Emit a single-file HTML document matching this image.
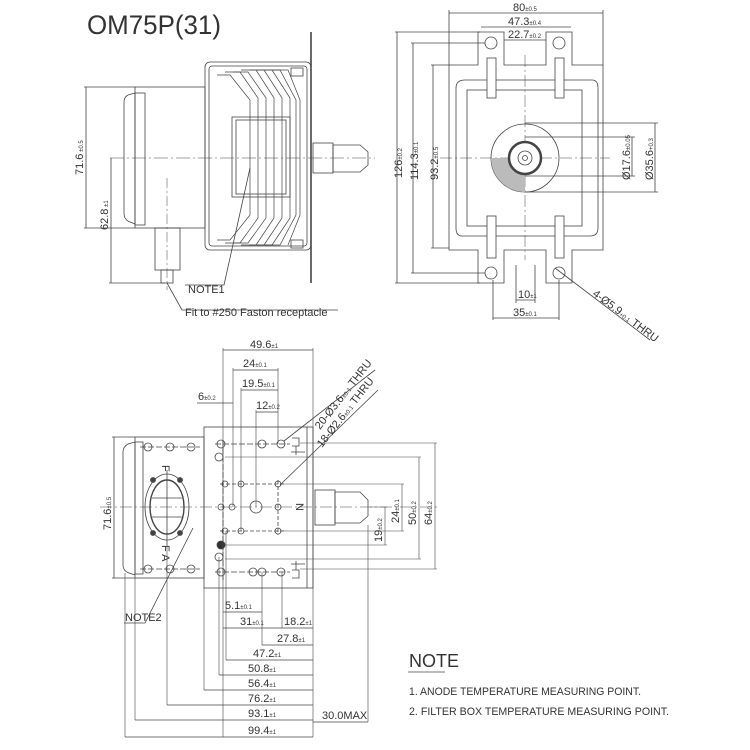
<!DOCTYPE html>
<html><head><meta charset="utf-8"><style>
html,body{margin:0;padding:0;background:#fff}
svg{display:block}
text{font-family:"Liberation Sans",sans-serif;fill:#333}
.t{font-size:11px}
.s{font-size:6px}
</style></head><body>
<svg width="750" height="750" viewBox="0 0 750 750" xmlns="http://www.w3.org/2000/svg" fill="none" stroke="#444" stroke-width="0.8">
<!-- TITLE -->
<text x="87" y="34" style="font-size:27px;font-weight:100" stroke="none" textLength="134" lengthAdjust="spacingAndGlyphs">OM75P(31)</text>

<!-- ===== SIDE VIEW TOP LEFT ===== -->
<line x1="110" y1="158" x2="375" y2="158" stroke-dasharray="14 3 2 3" stroke-width="0.5"/>
<rect x="135" y="87" width="70" height="141"/>
<path d="M135 93 L128 95 Q124 97 124 102 L124 213 Q124 220 130 222 L135 224"/>
<rect x="135" y="93" width="10" height="132"/>
<rect x="205" y="62" width="106" height="188" rx="5"/>
<rect x="209" y="66" width="98" height="180" rx="3"/>
<line x1="311" y1="32" x2="311" y2="283" stroke-width="1.6"/>
<rect x="232" y="117" width="58" height="80"/>
<rect x="236" y="120" width="50" height="74"/>
<g stroke-width="0.7">
<path d="M217 75 L230 75 L250 100 L250 215 L230 240 L217 240"/>
<path d="M225 72 L240 72 L258 98 L258 218 L240 243 L225 243"/>
<path d="M233 72 L248 72 L266 98 L266 218 L248 243 L233 243"/>
<path d="M241 70 L256 70 L274 98 L274 218 L256 245 L241 245"/>
<path d="M249 70 L264 70 L282 98 L282 218 L264 245 L249 245"/>
<path d="M257 70 L272 70 L290 98 L290 218 L272 245 L257 245"/>
<path d="M265 70 L280 70 L296 100 L296 215 L280 245 L265 245"/>
<path d="M273 70 L288 70 L300 100 L300 215 L288 245"/>
</g>
<rect x="291" y="68" width="12" height="8"/><rect x="291" y="240" width="12" height="8"/>
<rect x="313" y="143" width="20" height="30"/>
<path d="M333 145 L360 145 L368 152 L368 165 L360 172 L333 172 Z"/>
<rect x="155" y="228" width="25" height="42"/>
<rect x="161" y="270" width="12" height="13"/>
<line x1="167" y1="178" x2="167" y2="290" stroke-dasharray="10 3 2 3" stroke-width="0.5"/>
<!-- dims -->
<line x1="86" y1="87" x2="86" y2="228"/><line x1="84" y1="87" x2="135" y2="87"/><line x1="84" y1="228" x2="135" y2="228"/>
<text class="t" x="0" y="0" stroke="none" transform="translate(83 175) rotate(-90)">71.6<tspan class="s"> ±0.5</tspan></text>
<line x1="111" y1="158" x2="111" y2="283"/><line x1="109" y1="283" x2="165" y2="283"/>
<text class="t" stroke="none" transform="translate(108 230) rotate(-90)">62.8<tspan class="s"> ±1</tspan></text>
<path d="M250 168 L224 285 L185 285"/>
<text class="t" x="188" y="293" stroke="none">NOTE1</text>
<path d="M167 283 L182 310 L338 310"/>
<text class="t" x="185" y="316" stroke="none">Fit to #250 Faston receptacle</text>

<!-- ===== FRONT VIEW TOP RIGHT ===== -->
<line x1="525" y1="55" x2="525" y2="260" stroke-dasharray="12 3 2 3" stroke-width="0.5"/>
<line x1="440" y1="158" x2="610" y2="158" stroke-dasharray="12 3 2 3" stroke-width="0.5"/>
<path d="M449 65 L478 65 L478 32 L504 32 L504 65 L546 65 L546 32 L572 32 L572 65 L603 65 L603 250 L572 250 L572 283 L546 283 L546 250 L504 250 L504 283 L478 283 L478 250 L449 250 Z"/>
<path d="M465 80 L592 80 Q598 80 598 88 L598 228 Q598 236 590 236 L462 236 Q456 236 456 228 L456 88 Q456 80 465 80 Z"/>
<rect x="467" y="90" width="115" height="136"/>
<rect x="487" y="58" width="9" height="40" fill="#fff"/><rect x="555" y="58" width="9" height="40" fill="#fff"/>
<rect x="487" y="216" width="9" height="42" fill="#fff"/><rect x="555" y="216" width="9" height="42" fill="#fff"/>
<circle cx="491" cy="43" r="6"/><circle cx="559" cy="43" r="6"/>
<circle cx="491" cy="273" r="6"/><circle cx="559" cy="273" r="6"/>
<circle cx="525" cy="158" r="34"/>
<path d="M491 158 A34 34 0 0 0 525 192 L525 158 Z" fill="#bbb" stroke="none"/>
<circle cx="525" cy="158" r="16" stroke-width="2.5" fill="#fff"/>
<circle cx="525" cy="158" r="7"/><circle cx="525" cy="158" r="2.5"/>
<line x1="516" y1="265" x2="516" y2="285"/><line x1="535" y1="265" x2="535" y2="285"/>
<!-- dims -->
<line x1="449" y1="10" x2="449" y2="65"/><line x1="603" y1="10" x2="603" y2="65"/><line x1="449" y1="13" x2="603" y2="13"/>
<text class="t" x="513" y="11" stroke="none">80<tspan class="s">±0.5</tspan></text>
<line x1="481" y1="27" x2="571" y2="27"/>
<text class="t" x="508" y="25" stroke="none">47.3<tspan class="s">±0.4</tspan></text>
<line x1="504" y1="40" x2="546" y2="40"/>
<text class="t" x="508" y="38" stroke="none">22.7<tspan class="s">±0.2</tspan></text>
<line x1="397" y1="32" x2="397" y2="283"/><line x1="395" y1="32" x2="480" y2="32"/><line x1="395" y1="283" x2="480" y2="283"/>
<text class="t" stroke="none" transform="translate(402 178) rotate(-90)">126<tspan class="s">±0.2</tspan></text>
<line x1="413" y1="43" x2="413" y2="273"/><line x1="411" y1="43" x2="485" y2="43"/><line x1="411" y1="273" x2="485" y2="273"/>
<text class="t" stroke="none" transform="translate(418 180) rotate(-90)">114.3<tspan class="s">±0.1</tspan></text>
<line x1="433" y1="65" x2="433" y2="248"/><line x1="431" y1="65" x2="449" y2="65"/><line x1="431" y1="248" x2="449" y2="248"/>
<text class="t" stroke="none" transform="translate(438 180) rotate(-90)">93.2<tspan class="s">±0.5</tspan></text>
<line x1="525" y1="123" x2="658" y2="123"/><line x1="525" y1="192" x2="658" y2="192"/><line x1="655" y1="123" x2="655" y2="192"/>
<text class="t" stroke="none" transform="translate(653 180) rotate(-90)">Ø35.6<tspan class="s">+0.3</tspan></text>
<line x1="525" y1="137" x2="635" y2="137"/><line x1="525" y1="176" x2="635" y2="176"/><line x1="632" y1="137" x2="632" y2="176"/>
<text class="t" stroke="none" transform="translate(630 180) rotate(-90)">Ø17.6<tspan class="s">±0.05</tspan></text>
<line x1="516" y1="285" x2="516" y2="303"/><line x1="535" y1="285" x2="535" y2="303"/><line x1="516" y1="300" x2="535" y2="300"/>
<text class="t" x="518" y="298" stroke="none">10<tspan class="s">±1</tspan></text>
<line x1="493" y1="280" x2="493" y2="320"/><line x1="559" y1="280" x2="559" y2="320"/><line x1="493" y1="318" x2="559" y2="318"/>
<text class="t" x="513" y="316" stroke="none">35<tspan class="s">±0.1</tspan></text>
<line x1="555" y1="268" x2="650" y2="340"/>
<text class="t" stroke="none" transform="translate(592 295) rotate(37)">4-Ø5.9<tspan class="s">+0.1</tspan> THRU</text>

<!-- ===== BOTTOM VIEW ===== -->
<rect x="135" y="437" width="69" height="141"/>
<path d="M135 442 L128 444 Q123 447 123 452 L123 565 Q123 571 129 573 L135 575"/>
<rect x="135" y="442" width="8" height="132"/>
<rect x="204" y="427" width="109" height="161"/>
<line x1="307" y1="427" x2="307" y2="588"/>
<line x1="100" y1="507" x2="440" y2="507" stroke-dasharray="12 3 2 3" stroke-width="0.5"/>
<ellipse cx="167" cy="507" rx="22" ry="33"/>
<ellipse cx="167" cy="507" rx="17" ry="27" stroke-width="1.4"/>
<line x1="152" y1="498" x2="182" y2="498"/><line x1="152" y1="517" x2="182" y2="517"/>
<line x1="167" y1="470" x2="167" y2="545"/>
<g fill="#444"><circle cx="153" cy="480" r="2.5"/><circle cx="180" cy="480" r="2.5"/><circle cx="153" cy="533" r="2.5"/><circle cx="180" cy="533" r="2.5"/></g>
<g><circle cx="148" cy="447" r="4"/><circle cx="170" cy="447" r="4"/><circle cx="191" cy="447" r="4"/>
<circle cx="148" cy="569" r="4"/><circle cx="170" cy="569" r="4"/><circle cx="191" cy="569" r="4"/></g>
<line x1="140" y1="447" x2="200" y2="447" stroke-dasharray="6 2"/><line x1="140" y1="569" x2="200" y2="569" stroke-dasharray="6 2"/>
<text class="t" stroke="none" transform="translate(162 465) rotate(90)">F</text>
<text class="t" stroke="none" transform="translate(162 545) rotate(90)">F A</text>
<g>
<circle cx="221" cy="444" r="4"/><circle cx="262" cy="444" r="4"/><circle cx="281" cy="444" r="4"/>
<circle cx="219" cy="457" r="4"/>
<circle cx="225" cy="484" r="3"/><circle cx="241" cy="484" r="3"/><circle cx="278" cy="484" r="3"/>
<circle cx="221" cy="507" r="3"/><circle cx="232" cy="507" r="3"/><circle cx="256" cy="507" r="6"/><circle cx="278" cy="507" r="3"/>
<circle cx="225" cy="531" r="3"/><circle cx="241" cy="531" r="3"/><circle cx="278" cy="531" r="3"/>
<circle cx="221" cy="545" r="4" fill="#333"/><circle cx="219" cy="557" r="4"/>
<circle cx="221" cy="572" r="4"/><circle cx="253" cy="572" r="4"/><circle cx="262" cy="572" r="4"/><circle cx="281" cy="572" r="4"/>
</g>
<line x1="215" y1="444" x2="290" y2="444" stroke-dasharray="6 2"/><line x1="215" y1="572" x2="290" y2="572" stroke-dasharray="6 2"/>
<line x1="220" y1="484" x2="285" y2="484" stroke-dasharray="4 2"/><line x1="220" y1="531" x2="285" y2="531" stroke-dasharray="4 2"/>
<line x1="223" y1="440" x2="223" y2="580" stroke-dasharray="6 2"/>
<line x1="278" y1="480" x2="278" y2="535" stroke-dasharray="4 2"/>
<text class="t" stroke="none" transform="translate(296 503) rotate(90)">N</text>
<path d="M292 438 L299 438 L299 446 L292 446 M291 452 L305 452 M296 446 L296 455"/>
<path d="M292 578 L299 578 L299 570 L292 570 M291 564 L305 564 M296 570 L296 561"/>
<rect x="315" y="490" width="20" height="35"/>
<path d="M335 492 L360 492 L368 500 L368 516 L360 523 L335 523 Z"/>
<!-- vertical extension lines -->
<g stroke-width="0.6">
<line x1="223" y1="348" x2="223" y2="737"/><line x1="313" y1="348" x2="313" y2="737"/>
<line x1="233" y1="368" x2="233" y2="507"/><line x1="241" y1="388" x2="241" y2="531"/>
<line x1="278" y1="368" x2="278" y2="444"/><line x1="256" y1="410" x2="256" y2="507"/>
<line x1="262" y1="572" x2="262" y2="645"/><line x1="282" y1="572" x2="282" y2="628"/>
<line x1="226" y1="531" x2="226" y2="660"/><line x1="219" y1="557" x2="219" y2="675"/>
<line x1="204" y1="588" x2="204" y2="690"/><line x1="167" y1="545" x2="167" y2="705"/>
<line x1="135" y1="578" x2="135" y2="720"/><line x1="125" y1="573" x2="125" y2="737"/>
<line x1="368" y1="525" x2="368" y2="722"/>
</g>
<!-- top dims -->
<line x1="223" y1="350" x2="313" y2="350"/><text class="t" x="250" y="348" stroke="none">49.6<tspan class="s">±1</tspan></text>
<line x1="233" y1="370" x2="278" y2="370"/><text class="t" x="243" y="367" stroke="none">24<tspan class="s">±0.1</tspan></text>
<line x1="241" y1="390" x2="278" y2="390"/><text class="t" x="242" y="387" stroke="none">19.5<tspan class="s">±0.1</tspan></text>
<line x1="256" y1="412" x2="278" y2="412"/><text class="t" x="256" y="409" stroke="none">12<tspan class="s">±0.2</tspan></text>
<line x1="197" y1="403" x2="233" y2="403"/><text class="t" x="198" y="400" stroke="none">6<tspan class="s">±0.2</tspan></text>
<line x1="284" y1="441" x2="375" y2="370"/>
<text class="t" stroke="none" transform="translate(320 430) rotate(-52)">20-Ø3.6<tspan class="s">±0.1</tspan> THRU</text>
<line x1="280" y1="485" x2="378" y2="390"/>
<text class="t" stroke="none" transform="translate(322 448) rotate(-52)">18-Ø2.6<tspan class="s">±0.1</tspan> THRU</text>
<!-- left dim -->
<line x1="114" y1="437" x2="114" y2="578"/><line x1="112" y1="437" x2="135" y2="437"/><line x1="112" y1="578" x2="135" y2="578"/>
<text class="t" stroke="none" transform="translate(111 530) rotate(-90)">71.6<tspan class="s">±0.5</tspan></text>
<!-- right dims -->
<g stroke-width="0.6">
<line x1="300" y1="443" x2="437" y2="443"/><line x1="300" y1="569" x2="437" y2="569"/><line x1="435" y1="443" x2="435" y2="569"/>
<line x1="225" y1="457" x2="421" y2="457"/><line x1="225" y1="559" x2="421" y2="559"/><line x1="419" y1="457" x2="419" y2="559"/>
<line x1="280" y1="484" x2="404" y2="484"/><line x1="280" y1="531" x2="404" y2="531"/><line x1="402" y1="484" x2="402" y2="531"/>
<line x1="370" y1="507" x2="387" y2="507"/><line x1="225" y1="545" x2="387" y2="545"/><line x1="385" y1="507" x2="385" y2="545"/>
</g>
<text class="t" stroke="none" transform="translate(432 525) rotate(-90)">64<tspan class="s">±0.2</tspan></text>
<text class="t" stroke="none" transform="translate(416 525) rotate(-90)">50<tspan class="s">±0.2</tspan></text>
<text class="t" stroke="none" transform="translate(399 523) rotate(-90)">24<tspan class="s">±0.1</tspan></text>
<text class="t" stroke="none" transform="translate(382 542) rotate(-90)">19<tspan class="s">±0.2</tspan></text>
<!-- NOTE2 -->
<path d="M193 528 L145 623 L124 623"/>
<text class="t" x="125" y="621" stroke="none">NOTE2</text>
<!-- bottom dims -->
<g stroke-width="0.7">
<line x1="223" y1="612" x2="262" y2="612"/>
<line x1="223" y1="628" x2="313" y2="628"/>
<line x1="262" y1="645" x2="313" y2="645"/>
<line x1="226" y1="660" x2="313" y2="660"/>
<line x1="219" y1="675" x2="313" y2="675"/>
<line x1="204" y1="690" x2="313" y2="690"/>
<line x1="167" y1="705" x2="313" y2="705"/>
<line x1="135" y1="720" x2="313" y2="720"/>
<line x1="125" y1="737" x2="313" y2="737"/>
<line x1="313" y1="722" x2="368" y2="722"/>
</g>
<text class="t" x="225" y="609" stroke="none">5.1<tspan class="s">±0.1</tspan></text>
<text class="t" x="240" y="625" stroke="none">31<tspan class="s">±0.1</tspan></text>
<text class="t" x="284" y="625" stroke="none">18.2<tspan class="s">±1</tspan></text>
<text class="t" x="277" y="642" stroke="none">27.8<tspan class="s">±1</tspan></text>
<text class="t" x="253" y="657" stroke="none">47.2<tspan class="s">±1</tspan></text>
<text class="t" x="248" y="672" stroke="none">50.8<tspan class="s">±1</tspan></text>
<text class="t" x="248" y="687" stroke="none">56.4<tspan class="s">±1</tspan></text>
<text class="t" x="248" y="702" stroke="none">76.2<tspan class="s">±1</tspan></text>
<text class="t" x="248" y="717" stroke="none">93.1<tspan class="s">±1</tspan></text>
<text class="t" x="248" y="734" stroke="none">99.4<tspan class="s">±1</tspan></text>
<text class="t" x="322" y="719" stroke="none">30.0MAX</text>

<!-- NOTES -->
<text x="409" y="667" stroke="none" style="font-size:18px">NOTE</text>
<line x1="408" y1="672" x2="445" y2="672"/>
<text x="409" y="695" stroke="none" style="font-size:11px" textLength="232" lengthAdjust="spacingAndGlyphs">1. ANODE TEMPERATURE MEASURING POINT.</text>
<text x="409" y="715" stroke="none" style="font-size:11px" textLength="260" lengthAdjust="spacingAndGlyphs">2. FILTER BOX TEMPERATURE MEASURING POINT.</text>
</svg>
</body></html>
